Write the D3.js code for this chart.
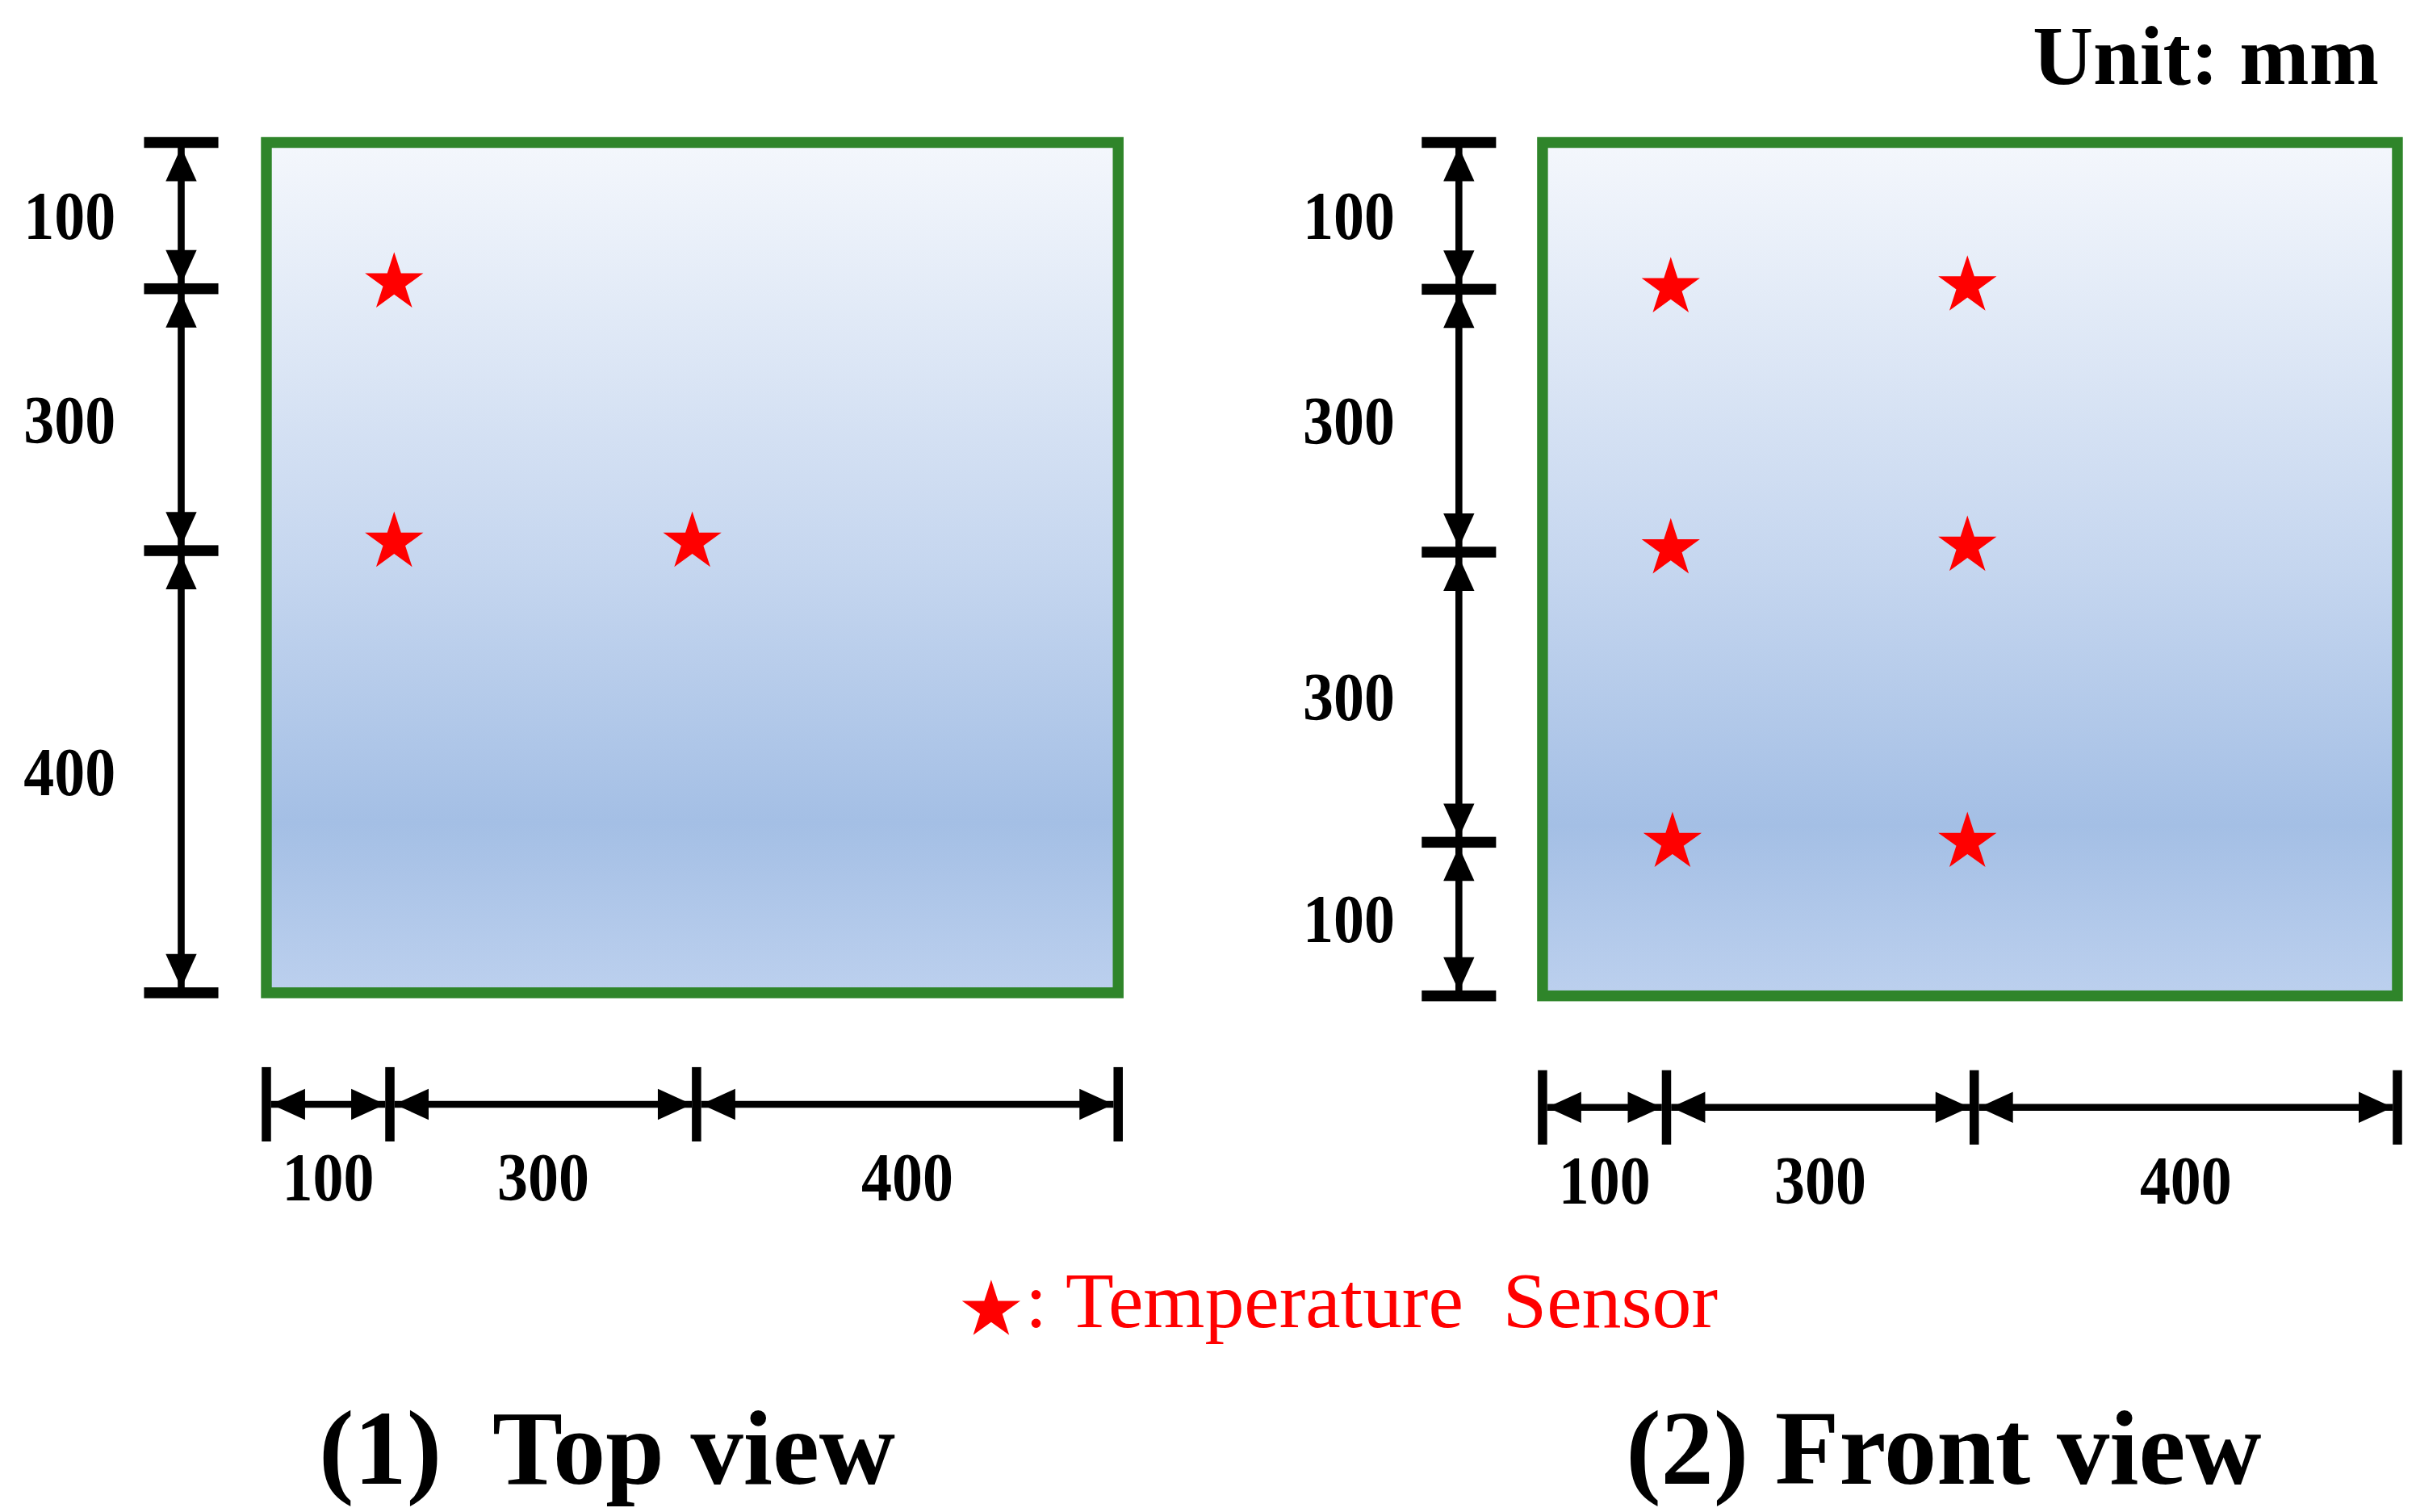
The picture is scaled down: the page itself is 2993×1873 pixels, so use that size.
<!DOCTYPE html>
<html><head><meta charset="utf-8">
<script src="https://cdn.jsdelivr.net/npm/d3@7"></script>
<style>body{margin:0;background:#fff}</style></head>
<body><script>
// Data
const views = ["(1)  Top view", "(2) Front view"];
const topVertLabels = ["100", "300", "400"];
const topVertBounds = [0, 0.172, 0.48, 1];
const frontVertLabels = ["100", "300", "300", "100"];
const frontVertBounds = [0, 0.172, 0.48, 0.82, 1];
const horizLabels = ["100", "300", "400"];
const horizBounds = [0, 0.145, 0.505, 1];
const topSensors = [[0.15, 0.165], [0.15, 0.47], [0.50, 0.47]];
const frontSensors = [[0.15, 0.17], [0.497, 0.168], [0.15, 0.476], [0.497, 0.473], [0.152, 0.82], [0.497, 0.82]];
const legendText = ": Temperature  Sensor";
const unitText = "Unit: mm";

const W = 2993, H = 1873, s = 2993 / 1560;
const svg = d3.select("body").append("svg").attr("width", W).attr("height", H);
const defs = svg.append("defs");
const gr = defs.append("linearGradient").attr("id", "bg").attr("x1", 0).attr("y1", 0).attr("x2", 0).attr("y2", 1);
[[0, "#f4f7fc"], [0.5, "#c5d6ef"], [0.8, "#a4bfe5"], [1, "#bcd0ee"]].forEach(([o, c]) => gr.append("stop").attr("offset", o).attr("stop-color", c));
const g = svg.append("g").attr("transform", `scale(${s})`);
const serif = "'Liberation Serif','Times New Roman',serif";
const star = d3.symbol().type(d3.symbolStar).size(440);

function arrow(x1, y1, x2, y2) {
  const ang = Math.atan2(y2 - y1, x2 - x1), L = 22, Wd = 10;
  g.append("line").attr("x1", x1).attr("y1", y1).attr("x2", x2).attr("y2", y2).attr("stroke", "#000").attr("stroke-width", 4.5);
  [[x1, y1, ang + Math.PI], [x2, y2, ang]].forEach(([x, y, a]) => {
    const bx = x - L * Math.cos(a), by = y - L * Math.sin(a);
    const px = -Math.sin(a) * Wd, py = Math.cos(a) * Wd;
    g.append("path").attr("d", `M${x},${y}L${bx + px},${by + py}L${bx - px},${by - py}Z`).attr("fill", "#000");
  });
}

function label(x, y, t) {
  g.append("text").attr("x", x).attr("y", y).attr("text-anchor", "middle")
    .attr("font-family", serif).attr("font-weight", "bold").attr("font-size", 44)
    .attr("transform", `translate(${x},0) scale(0.9,1) translate(${-x},0)`).text(t);
}

function panel(x0, x1, y0, y1, vx, labX, vb, vl, hb, sensors, hy) {
  const xs = d3.scaleLinear().domain([0, 1]).range([x0, x1]);
  const ys = d3.scaleLinear().domain([0, 1]).range([y0, y1]);
  g.append("rect").attr("x", x0).attr("y", y0).attr("width", x1 - x0).attr("height", y1 - y0)
    .attr("fill", "url(#bg)").attr("stroke", "#2f852a").attr("stroke-width", 7);
  vb.forEach(b => g.append("rect").attr("x", vx - 24).attr("y", ys(b) - 3.5).attr("width", 48).attr("height", 7).attr("fill", "#000"));
  for (let i = 0; i < vl.length; i++) {
    arrow(vx, ys(vb[i]) + 3, vx, ys(vb[i + 1]) - 3);
    label(labX, (ys(vb[i]) + ys(vb[i + 1])) / 2 + 15, vl[i]);
  }
  hb.forEach(b => g.append("rect").attr("x", xs(b) - 3).attr("y", hy - 24).attr("width", 6).attr("height", 48).attr("fill", "#000"));
  for (let i = 0; i < horizLabels.length; i++) {
    arrow(xs(hb[i]) + 3, hy, xs(hb[i + 1]) - 3, hy);
    label((xs(hb[i]) + xs(hb[i + 1])) / 2, hy + 62, horizLabels[i]);
  }
  sensors.forEach(([a, b]) => g.append("path").attr("d", star).attr("transform", `translate(${xs(a)},${ys(b)})`).attr("fill", "#ff0000"));
}
panel(172, 722, 92, 641, 117, 45, topVertBounds, topVertLabels, horizBounds, topSensors, 713);
panel(996, 1548, 92, 643, 942, 871, frontVertBounds, frontVertLabels, horizBounds, frontSensors, 715);

g.append("path").attr("d", star).attr("transform", "translate(640,846)").attr("fill", "#ff0000");
g.append("text").attr("x", 662).attr("y", 857).attr("font-family", serif).attr("font-size", 51).attr("fill", "#ff0000")
  .style("white-space", "pre").text(legendText);
const cx = [392, 1255];
views.forEach((v, i) => g.append("text").attr("x", cx[i]).attr("y", 958).attr("text-anchor", "middle")
  .attr("font-family", serif).attr("font-weight", "bold").attr("font-size", 68).style("white-space", "pre").text(v));
g.append("text").attr("x", 1536).attr("y", 54).attr("text-anchor", "end").attr("font-family", serif)
  .attr("font-weight", "bold").attr("font-size", 54).text(unitText);
</script></body></html>
